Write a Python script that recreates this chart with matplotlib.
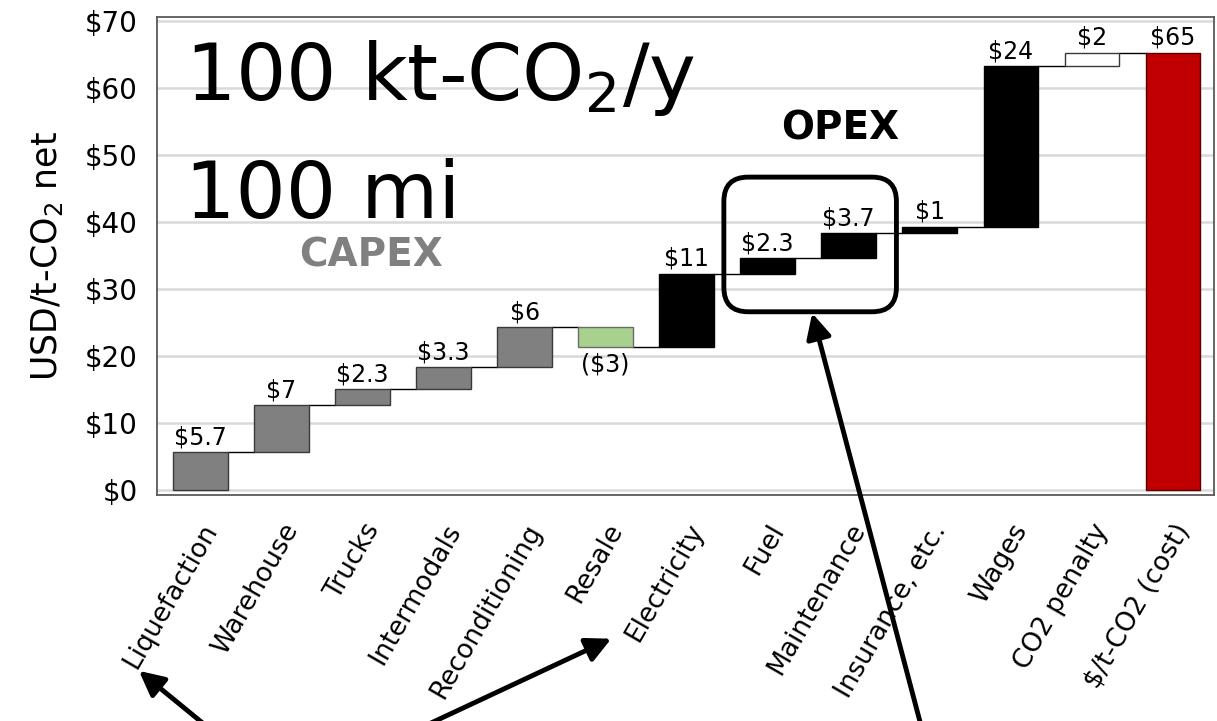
import numpy as np
import matplotlib.pyplot as plt
from matplotlib.patches import FancyBboxPatch
from matplotlib.transforms import ScaledTranslation

categories = ['Liquefaction', 'Warehouse', 'Trucks', 'Intermodals', 'Reconditioning',
              'Resale', 'Electricity', 'Fuel', 'Maintenance', 'Insurance, etc.',
              'Wages', 'CO2 penalty', '$/t-CO2 (cost)']
steps = [5.7, 7.0, 2.3, 3.3, 6.0, -3.0, 11.0, 2.3, 3.7, 1.0, 24.0, 2.0]
value_labels = ['$5.7', '$7', '$2.3', '$3.3', '$6', '($3)', '$11', '$2.3', '$3.7',
                '$1', '$24', '$2', '$65']
kinds = ['capex'] * 5 + ['resale'] + ['opex'] * 5 + ['penalty', 'total']
ytick_vals = [0, 10, 20, 30, 40, 50, 60, 70]

face = {'capex': '#808080', 'resale': '#a9d18e', 'opex': '#000000',
        'penalty': '#ffffff', 'total': '#c00000'}
edge = {'capex': '#3a3a3a', 'resale': '#6b6b6b', 'opex': '#000000',
        'penalty': '#3a3a3a', 'total': '#5a0000'}

# waterfall levels
ends = np.cumsum(steps)
starts = ends - np.array(steps)
total = ends[-1]
bottoms = list(np.minimum(starts, ends)) + [0]
heights = list(np.abs(steps)) + [total]
tops = [b + h for b, h in zip(bottoms, heights)]

x = np.arange(len(categories))
w = 0.67

fig = plt.figure(figsize=(12.17, 7.21), dpi=100)
ax = fig.add_axes([157/1217, 1-495/721, 1057/1217, 478/721])

ax.bar(x, heights, bottom=bottoms, width=w,
       color=[face[k] for k in kinds], edgecolor=[edge[k] for k in kinds],
       linewidth=1.0, zorder=3)

# connector lines
levels = list(ends)
for i in range(len(x) - 1):
    ax.plot([x[i] + w/2, x[i+1] - w/2], [levels[i], levels[i]],
            color='black', lw=1.0, zorder=2)

# value labels
for i in range(len(x)):
    if kinds[i] == 'resale':
        ax.annotate(value_labels[i], (x[i], bottoms[i]), xytext=(0, -4),
                    textcoords='offset points', ha='center', va='top', fontsize=17)
    else:
        ax.annotate(value_labels[i], (x[i], tops[i]), xytext=(0, 2),
                    textcoords='offset points', ha='center', va='bottom', fontsize=17)

ax.set_xlim(-0.537, 12.51)
ax.set_ylim(-0.75, 70.6)
ax.set_yticks(ytick_vals)
ax.set_yticklabels(['$%d' % v for v in ytick_vals], fontsize=20)
ax.tick_params(axis='y', length=0, pad=14)
ax.set_xticks(x)
ax.set_xticklabels(categories, rotation=60, ha='right', va='center',
                   rotation_mode='anchor', fontsize=19)
ax.tick_params(axis='x', length=0, pad=22)
off = ScaledTranslation(8/72, 0, fig.dpi_scale_trans)
for lab in ax.get_xticklabels():
    lab.set_transform(lab.get_transform() + off)

ax.set_ylabel('USD/t-CO$_2$ net', fontsize=25, labelpad=14)
ax.yaxis.grid(True, color='#d9d9d9', lw=1.8, zorder=0)
ax.set_axisbelow(True)
for s in ax.spines.values():
    s.set_color('#595959')
    s.set_linewidth(1.3)

# headline text
fig.text(185/1217, 1-100/721, '100 kt-CO$_2$/y', fontsize=57, va='baseline')
fig.text(185/1217, 1-218/721, '100 mi', fontsize=57, va='baseline')
ax.text(2.1, 35.0, 'CAPEX', fontsize=28, fontweight='bold', color='#808080',
        ha='center', va='center')
ax.text(7.9, 54.0, 'OPEX', fontsize=28, fontweight='bold', color='black',
        ha='center', va='center')

# rounded box around Fuel / Maintenance
box = FancyBboxPatch((6.46, 26.6), 2.13, 20.1,
                     boxstyle='round,pad=0,rounding_size=0.3',
                     mutation_aspect=12.1, fill=False, lw=3.5,
                     edgecolor='black', zorder=5, clip_on=False)
ax.add_patch(box)

arrow_kw = dict(arrowstyle='-|>,head_length=0.6,head_width=0.3', lw=3.5,
                color='black', mutation_scale=25, shrinkA=0, shrinkB=0)
arrows = [((-0.76, -27.0), (0.28, -37.3)),
          ((5.07, -22.2), (2.40, -37.3)),
          ((7.55, 26.4), (8.94, -37.3))]
for head, tail in arrows:
    ax.annotate('', xy=head, xytext=tail, xycoords='data', textcoords='data',
                arrowprops=arrow_kw, annotation_clip=False)

fig.savefig('out.png', dpi=100)
